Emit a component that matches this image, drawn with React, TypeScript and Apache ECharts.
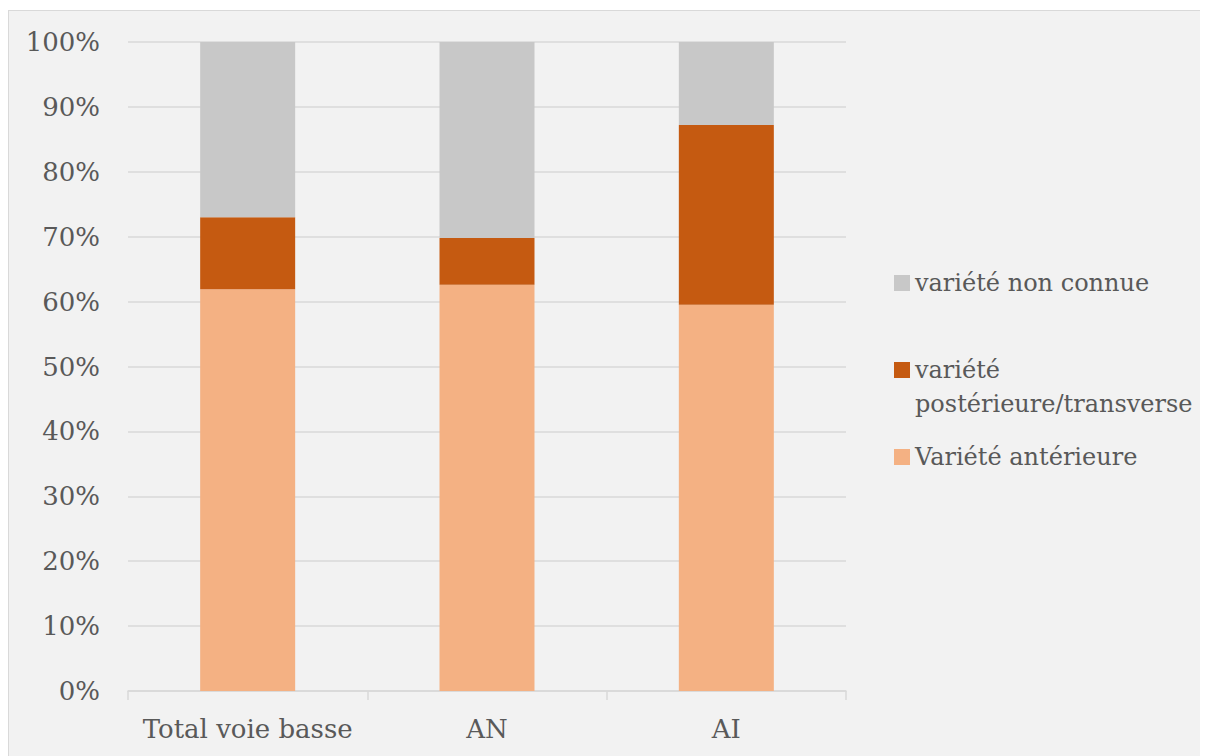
import React, { useEffect, useRef } from "react";
import * as echarts from "echarts";

const categories = ["Total voie basse", "AN", "AI"];
const anterieure = [61.9, 62.6, 59.5];
const posterieure = [11.1, 7.2, 27.7];
const nonConnue = [27.0, 30.2, 12.8];
const yTicks = [0, 10, 20, 30, 40, 50, 60, 70, 80, 90, 100];

const NAME_ANT = "Variété antérieure";
const NAME_POST = "variété postérieure/transverse";
const NAME_NC = "variété non connue";

const FONT = "DejaVu Serif";
const FS = 26;
const TEXT = "#595959";

export default function App() {
  const ref = useRef<HTMLDivElement>(null);
  useEffect(() => {
    if (!ref.current) return;
    const chart = echarts.init(ref.current, undefined, { renderer: "svg" });
    chart.setOption({
      animation: false,
      backgroundColor: "#f2f2f2",
      textStyle: { fontFamily: FONT },
      grid: { left: 119, top: 31, width: 718, height: 649 },
      legend: {
        orient: "vertical",
        left: 880,
        top: 250,
        itemWidth: 16,
        itemHeight: 16,
        itemGap: 19,
        icon: "rect",
        textStyle: { fontFamily: FONT, fontSize: 24, color: TEXT, lineHeight: 34 },
        formatter: (n: string) => (n === NAME_POST ? "\u00a0\nvariété\npostérieure/transverse" : n),
        data: [{ name: NAME_NC }, { name: NAME_POST }, { name: NAME_ANT }],
      },
      xAxis: {
        type: "category",
        data: categories,
        axisLine: { lineStyle: { color: "#d9d9d9", width: 1.5 } },
        axisTick: { show: true, length: 9, lineStyle: { color: "#d9d9d9", width: 1.5 } },
        axisLabel: { fontFamily: FONT, fontSize: FS, color: TEXT, margin: 25, interval: 0 },
        splitLine: { show: false },
      },
      yAxis: {
        type: "value",
        min: 0,
        max: 100,
        interval: 10,
        axisLine: { show: false },
        axisTick: { show: false },
        axisLabel: {
          fontFamily: FONT,
          fontSize: FS,
          color: TEXT,
          margin: 28,
          formatter: (v: number) => (yTicks.includes(v) ? v + "%" : ""),
        },
        splitLine: { lineStyle: { color: "#d9d9d9", width: 1.5 } },
      },
      series: [
        { name: NAME_ANT, type: "bar", stack: "s", barWidth: 95, data: anterieure, itemStyle: { color: "#f4b183" } },
        { name: NAME_POST, type: "bar", stack: "s", barWidth: 95, data: posterieure, itemStyle: { color: "#c55a11" } },
        { name: NAME_NC, type: "bar", stack: "s", barWidth: 95, data: nonConnue, itemStyle: { color: "#c8c8c8" } },
      ],
    });
    return () => chart.dispose();
  }, []);
  return (
    <div style={{ marginTop: 2, border: "1px solid #d9d9d9", width: 1199, background: "#f2f2f2" }}>
      <div ref={ref} style={{ width: 1199, height: 750 }} />
    </div>
  );
}
